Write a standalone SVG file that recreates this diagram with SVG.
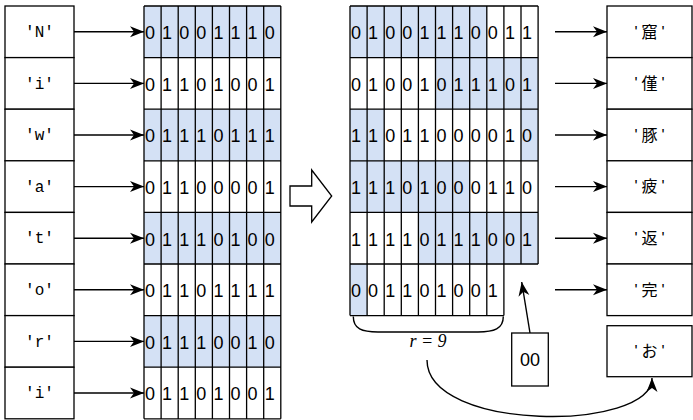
<svg xmlns="http://www.w3.org/2000/svg" width="693" height="420" viewBox="0 0 693 420">
<style>
.box{fill:#fff;stroke:#000;stroke-width:1.3}
.blue{fill:#D4E1F5;stroke:none}
.grid{fill:none;stroke:#000;stroke-width:1.3}
.bits{font-family:"Liberation Sans",Arial,sans-serif;font-size:18px;fill:#000}
.lbl{font-family:"Liberation Mono","Courier New",monospace;font-size:16px;fill:#000;text-anchor:middle}
.cjk{font-family:"Liberation Sans","Noto Sans CJK JP",sans-serif;font-size:16px;fill:#000;text-anchor:middle;letter-spacing:4px}
.conn{fill:none;stroke:#000;stroke-width:1.4}
</style>
<defs>
<marker id="arr" markerUnits="userSpaceOnUse" markerWidth="16" markerHeight="12" refX="14" refY="5.5" orient="auto" overflow="visible">
<path d="M0,0 L14,5.5 L0,11 L4,5.5 z" fill="#000"/>
</marker>
</defs>

<g id="left-labels">
<g id="lN"><rect class="box" x="5" y="6" width="69" height="51.6"/><text class="lbl" x="39.5" y="37">'N'</text></g>
<g id="li1"><rect class="box" x="5" y="57.6" width="69" height="51.6"/><text class="lbl" x="39.5" y="88.6">'i'</text></g>
<g id="lw"><rect class="box" x="5" y="109.2" width="69" height="51.6"/><text class="lbl" x="39.5" y="140.2">'w'</text></g>
<g id="la"><rect class="box" x="5" y="160.8" width="69" height="51.6"/><text class="lbl" x="39.5" y="191.8">'a'</text></g>
<g id="lt"><rect class="box" x="5" y="212.4" width="69" height="51.6"/><text class="lbl" x="39.5" y="243.4">'t'</text></g>
<g id="lo"><rect class="box" x="5" y="264" width="69" height="51.6"/><text class="lbl" x="39.5" y="295">'o'</text></g>
<g id="lr"><rect class="box" x="5" y="315.6" width="69" height="51.6"/><text class="lbl" x="39.5" y="346.6">'r'</text></g>
<g id="li2"><rect class="box" x="5" y="367.2" width="69" height="51.6"/><text class="lbl" x="39.5" y="398.2">'i'</text></g>
</g>

<g id="left-grid">
<rect x="144" y="6" width="136.8" height="418.8" fill="#fff"/>
<rect class="blue" x="144" y="6" width="136.8" height="51.6"/>
<rect class="blue" x="144" y="109.2" width="136.8" height="51.6"/>
<rect class="blue" x="144" y="212.4" width="136.8" height="51.6"/>
<rect class="blue" x="144" y="315.6" width="136.8" height="51.6"/>
<path class="grid" d="M144,6 V418.8 M161.1,6 V418.8 M178.2,6 V418.8 M195.3,6 V418.8 M212.4,6 V418.8 M229.5,6 V418.8 M246.6,6 V418.8 M263.7,6 V418.8 M280.8,6 V418.8 M144,6 H280.8 M144,57.6 H280.8 M144,109.2 H280.8 M144,160.8 H280.8 M144,212.4 H280.8 M144,264 H280.8 M144,315.6 H280.8 M144,367.2 H280.8 M144,418.8 H280.8"/>
<text class="bits" x="145 162.1 179.2 196.3 213.4 230.5 247.6 264.7" y="39.2">01001110</text>
<text class="bits" x="145 162.1 179.2 196.3 213.4 230.5 247.6 264.7" y="90.8">01101001</text>
<text class="bits" x="145 162.1 179.2 196.3 213.4 230.5 247.6 264.7" y="142.4">01110111</text>
<text class="bits" x="145 162.1 179.2 196.3 213.4 230.5 247.6 264.7" y="194">01100001</text>
<text class="bits" x="145 162.1 179.2 196.3 213.4 230.5 247.6 264.7" y="245.6">01110100</text>
<text class="bits" x="145 162.1 179.2 196.3 213.4 230.5 247.6 264.7" y="297.2">01101111</text>
<text class="bits" x="145 162.1 179.2 196.3 213.4 230.5 247.6 264.7" y="348.8">01110010</text>
<text class="bits" x="145 162.1 179.2 196.3 213.4 230.5 247.6 264.7" y="400.4">01101001</text>
</g>

<g id="big-arrow">
<path d="M290,186 H311.7 V170 L331.7,196 L311.7,222 V206 H290 Z" fill="#fff" stroke="#000" stroke-width="1.3"/>
</g>

<g id="right-grid">
<rect x="350" y="6" width="188.1" height="258" fill="#fff"/>
<rect x="350" y="264" width="153.9" height="51.6" fill="#fff"/>
<rect class="blue" x="350" y="6" width="136.8" height="51.6"/>
<rect class="blue" x="435.5" y="57.6" width="102.6" height="51.6"/>
<rect class="blue" x="350" y="109.2" width="34.2" height="51.6"/>
<rect class="blue" x="521" y="109.2" width="17.1" height="51.6"/>
<rect class="blue" x="350" y="160.8" width="119.7" height="51.6"/>
<rect class="blue" x="418.4" y="212.4" width="119.7" height="51.6"/>
<rect class="blue" x="350" y="264" width="17.1" height="51.6"/>
<path class="grid" d="M350,6 V315.6 M367.1,6 V315.6 M384.2,6 V315.6 M401.3,6 V315.6 M418.4,6 V315.6 M435.5,6 V315.6 M452.6,6 V315.6 M469.7,6 V315.6 M486.8,6 V315.6 M503.9,6 V315.6 M521,6 V264 M538.1,6 V264 M350,6 H538.1 M350,57.6 H538.1 M350,109.2 H538.1 M350,160.8 H538.1 M350,212.4 H538.1 M350,264 H538.1 M350,315.6 H503.9"/>
<text class="bits" x="351 368.1 385.2 402.3 419.4 436.5 453.6 470.7 487.8 504.9 522" y="39.2">01001110011</text>
<text class="bits" x="351 368.1 385.2 402.3 419.4 436.5 453.6 470.7 487.8 504.9 522" y="90.8">01001011101</text>
<text class="bits" x="351 368.1 385.2 402.3 419.4 436.5 453.6 470.7 487.8 504.9 522" y="142.4">11011000010</text>
<text class="bits" x="351 368.1 385.2 402.3 419.4 436.5 453.6 470.7 487.8 504.9 522" y="194">11101000110</text>
<text class="bits" x="351 368.1 385.2 402.3 419.4 436.5 453.6 470.7 487.8 504.9 522" y="245.6">11110111001</text>
<text class="bits" x="351 368.1 385.2 402.3 419.4 436.5 453.6 470.7 487.8" y="297.2">001101001</text>
</g>

<g id="right-labels">
<g id="r1"><rect class="box" x="607" y="6" width="85" height="51.6"/><text class="cjk" x="651.5" y="37.5">'窟'</text></g>
<g id="r2"><rect class="box" x="607" y="57.6" width="85" height="51.6"/><text class="cjk" x="651.5" y="89.1">'僅'</text></g>
<g id="r3"><rect class="box" x="607" y="109.2" width="85" height="51.6"/><text class="cjk" x="651.5" y="140.7">'豚'</text></g>
<g id="r4"><rect class="box" x="607" y="160.8" width="85" height="51.6"/><text class="cjk" x="651.5" y="192.3">'疲'</text></g>
<g id="r5"><rect class="box" x="607" y="212.4" width="85" height="51.6"/><text class="cjk" x="651.5" y="243.9">'返'</text></g>
<g id="r6"><rect class="box" x="607" y="264" width="85" height="51.6"/><text class="cjk" x="651.5" y="295.5">'完'</text></g>
<g id="r7"><rect class="box" x="607" y="325.7" width="85" height="51"/><text class="cjk" x="651.5" y="356.9">'お'</text></g>
</g>

<g id="pad">
<rect class="box" x="511.7" y="333" width="36.6" height="53"/>
<text class="bits" x="530" y="366" text-anchor="middle">00</text>
</g>

<g id="brace-label">
<text x="428" y="347" text-anchor="middle" font-family="'Liberation Serif','Times New Roman',serif" font-size="18" font-style="italic">r = 9</text>
</g>

<g id="connectors">
<path class="conn" d="M74,31.8 H144" marker-end="url(#arr)"/>
<path class="conn" d="M74,83.4 H144" marker-end="url(#arr)"/>
<path class="conn" d="M74,135 H144" marker-end="url(#arr)"/>
<path class="conn" d="M74,186.6 H144" marker-end="url(#arr)"/>
<path class="conn" d="M74,238.2 H144" marker-end="url(#arr)"/>
<path class="conn" d="M74,289.8 H144" marker-end="url(#arr)"/>
<path class="conn" d="M74,341.4 H144" marker-end="url(#arr)"/>
<path class="conn" d="M74,393 H144" marker-end="url(#arr)"/>
<path class="conn" d="M555,31.8 H607" marker-end="url(#arr)"/>
<path class="conn" d="M555,83.4 H607" marker-end="url(#arr)"/>
<path class="conn" d="M555,135 H607" marker-end="url(#arr)"/>
<path class="conn" d="M555,186.6 H607" marker-end="url(#arr)"/>
<path class="conn" d="M555,238.2 H607" marker-end="url(#arr)"/>
<path class="conn" d="M555,289.8 H607" marker-end="url(#arr)"/>
<path class="conn" d="M530,333 L521.7,282" marker-end="url(#arr)"/>
<path class="conn" d="M353.3,316.5 C353.3,329 362,332 378,332 L478,332 C494,332 503.3,329 503.3,316.5"/>
<path class="conn" d="M427,360 C427,432 652,432 652,378" marker-end="url(#arr)"/>
</g>
</svg>
